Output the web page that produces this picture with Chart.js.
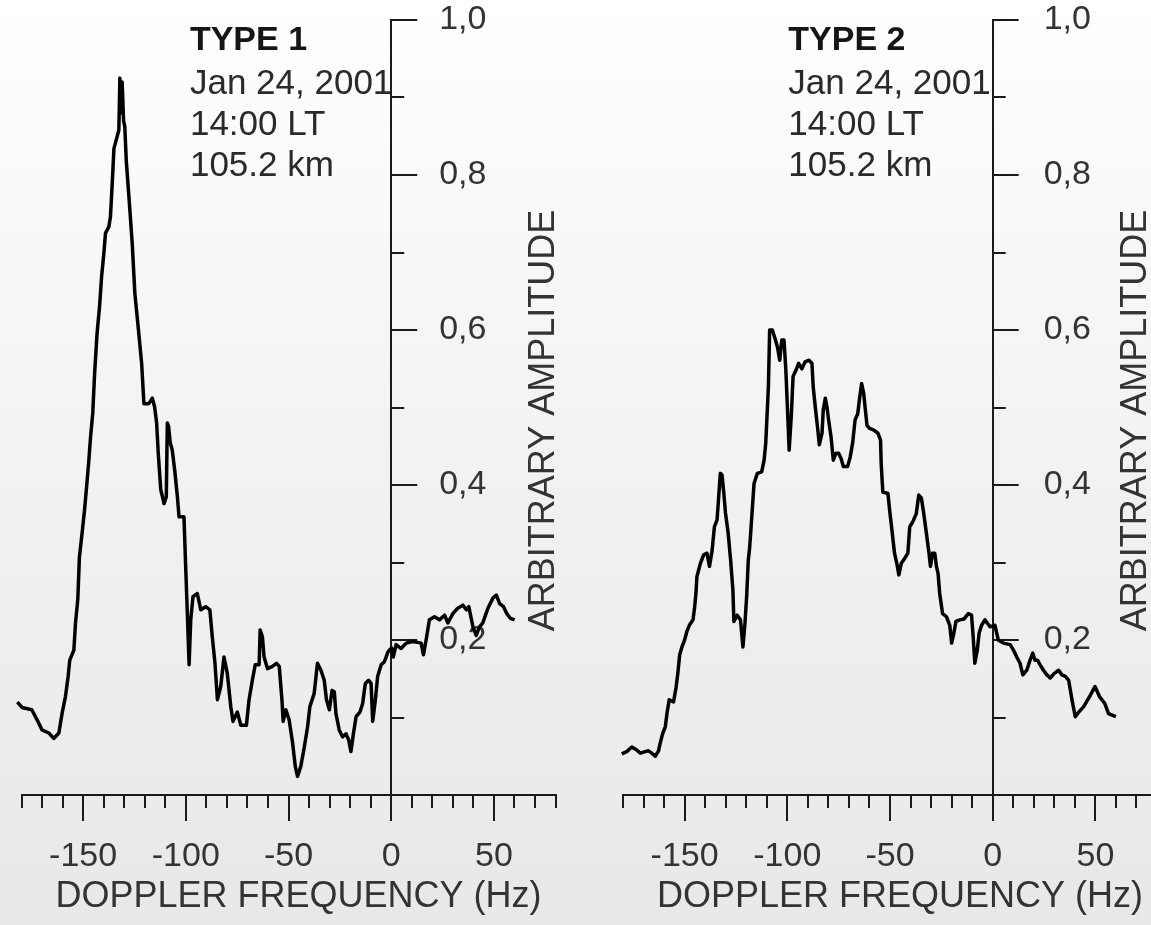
<!DOCTYPE html>
<html>
<head>
<meta charset="utf-8">
<title>Doppler spectra</title>
<script src="https://cdn.jsdelivr.net/npm/chart.js@4.4.1/dist/chart.umd.min.js"></script>
<style>
  html, body { margin: 0; padding: 0; }
  body {
    position: relative;
    width: 1151px;
    height: 925px;
    overflow: hidden;
    background: linear-gradient(to bottom, #ffffff 0%, #f3f3f3 45%, #e8e8e8 100%);
  }
  canvas { position: absolute; top: 0; }
  #type1Chart { left: 0; }
  #type2Chart { left: 600px; }
</style>
</head>
<body>
<canvas id="type1Chart" width="600" height="925"></canvas>
<canvas id="type2Chart" width="600" height="925"></canvas>
<script>
// ==========================================================
// Doppler spectra, two echo types (Jan 24, 2001, 105.2 km)
// ==========================================================

// --- TYPE 1 spectrum ---
const type1Freq = [
  -182, -179.8, -175, -172.4, -170, -166.7, -164.3, -161.8, -160.2, -158.6,
  -157.3, -156.5, -154.5, -153.7, -152.6, -151.8, -150.5, -149.3, -148.3, -147.2,
  -146.4, -145.3, -144.4, -143.2, -142, -141, -139.9, -139.1, -137.5, -136.7,
  -135.9, -135, -133.9, -132.6, -132.1, -131.5, -131, -130.3, -129.7, -129,
  -127.7, -126.1, -124.8, -123.2, -121.5, -120.4, -118, -116.3, -115.2, -114.2,
  -113.4, -112.2, -110.6, -109.5, -109, -108.4, -107.6, -106.6, -105.4, -104.1,
  -103.3, -100.9, -100, -99.2, -98.4, -97.6, -96.5, -94.4, -92.7, -90.3,
  -88.3, -87.1, -85.8, -84.6, -83, -81.4, -79.8, -78.1, -77, -74.9,
  -73.2, -70.5, -69.2, -67.6, -66.2, -64.3, -63.8, -62.7, -61.9, -60.2,
  -57.8, -55.9, -54.5, -53.2, -52.6, -51.3, -49.7, -48, -46.7, -45.6,
  -44, -42.3, -40.7, -39.6, -37.5, -35.9, -34.2, -32.6, -31.5, -30.1,
  -28.8, -27.7, -26.9, -25.3, -23.7, -22, -20.7, -19.6, -18.4, -17.1,
  -15.2, -13.9, -12.6, -11, -9.8, -9, -7.7, -6.6, -4.9, -3.3,
  -1.5, 0.2, 1, 2.4, 4.8, 7.3, 10.5, 14.6, 15.7, 17,
  18.6, 21.1, 23.5, 26, 27.6, 30, 32.4, 34.9, 36.6, 37.8,
  39.8, 41.4, 43, 44.6, 47.1, 49.5, 51.2, 52.8, 54.7, 56.3,
  58, 60.1,
];
const type1Amp = [
  0.120, 0.113, 0.110, 0.097, 0.084, 0.080, 0.073, 0.080, 0.106, 0.127,
  0.153, 0.174, 0.187, 0.222, 0.252, 0.307, 0.338, 0.368, 0.398, 0.432,
  0.461, 0.493, 0.544, 0.596, 0.630, 0.669, 0.699, 0.725, 0.733, 0.746,
  0.785, 0.834, 0.845, 0.858, 0.925, 0.880, 0.920, 0.870, 0.862, 0.819,
  0.772, 0.712, 0.647, 0.604, 0.557, 0.505, 0.505, 0.512, 0.501, 0.480,
  0.440, 0.394, 0.376, 0.385, 0.480, 0.476, 0.455, 0.445, 0.419, 0.385,
  0.359, 0.359, 0.290, 0.230, 0.168, 0.226, 0.256, 0.260, 0.239, 0.243,
  0.239, 0.204, 0.170, 0.123, 0.140, 0.178, 0.157, 0.114, 0.095, 0.107,
  0.090, 0.090, 0.123, 0.148, 0.168, 0.168, 0.213, 0.204, 0.178, 0.163,
  0.166, 0.170, 0.166, 0.123, 0.095, 0.110, 0.097, 0.067, 0.037, 0.024,
  0.037, 0.062, 0.088, 0.114, 0.131, 0.170, 0.161, 0.148, 0.123, 0.110,
  0.135, 0.133, 0.105, 0.084, 0.075, 0.079, 0.071, 0.056, 0.079, 0.101,
  0.107, 0.118, 0.144, 0.148, 0.144, 0.095, 0.123, 0.153, 0.168, 0.172,
  0.185, 0.190, 0.178, 0.194, 0.189, 0.196, 0.198, 0.196, 0.181, 0.200,
  0.226, 0.230, 0.226, 0.232, 0.222, 0.234, 0.241, 0.245, 0.239, 0.243,
  0.217, 0.206, 0.217, 0.222, 0.241, 0.254, 0.258, 0.247, 0.243, 0.234,
  0.228, 0.226,
];

// --- TYPE 2 spectrum ---
const type2Freq = [
  -182.5, -180.6, -178.2, -175.7, -173.3, -171.6, -169.2, -167.6, -166, -164.3,
  -162.7, -161.9, -160.6, -159.4, -158.6, -157.5, -155.4, -154.2, -153.3, -152.4,
  -151.3, -150, -148.9, -147.7, -145.9, -145.1, -144.5, -144, -142.3, -140.7,
  -139.1, -137.9, -136.6, -135.5, -134.2, -133.4, -132.6, -131.8, -130.9, -130.1,
  -128.8, -127.6, -126.5, -126, -124.4, -122.8, -121.6, -120.6, -119.8, -119,
  -118.3, -117.3, -116.2, -114.6, -112.5, -111.3, -110.5, -109.2, -108.6, -107.3,
  -106.2, -104.8, -103.7, -102.7, -101.6, -100.7, -99.9, -99.1, -98, -97.2,
  -95.8, -94.5, -92.9, -91.3, -89.5, -88, -87.4, -86.4, -85.3, -84.4,
  -83.1, -82.5, -81.5, -80.7, -79.9, -78.7, -77.6, -76.3, -75, -73.8,
  -72.7, -70.6, -69.4, -68.2, -67, -65.7, -64.9, -63.8, -62.8, -62,
  -61.2, -60, -58, -55.9, -54.6, -54.3, -53.5, -51, -50.2, -48.9,
  -47.8, -46.7, -45.7, -44.5, -42.9, -41.3, -40.4, -38.8, -37.2, -36,
  -34.7, -33.6, -32.3, -31, -30.3, -29.3, -28.2, -27.4, -26.6, -25.8,
  -24.4, -22.5, -20.9, -20, -18.9, -17.9, -16, -14, -11.9, -10.3,
  -9.5, -8.7, -7.5, -6.6, -5.4, -3.8, -1.3, 1.1, 2.7, 5.2,
  8.5, 10.1, 11.7, 13.3, 14.7, 16.6, 18.2, 19.5, 20.6, 21.8,
  23.1, 24.7, 26.4, 28, 30, 32.1, 33.7, 35.4, 37, 38.6,
  40.2, 41.9, 44.3, 46.3, 47.6, 49.8, 52, 54.6, 56.4, 60,
];
const type2Amp = [
  0.057, 0.053, 0.056, 0.062, 0.058, 0.054, 0.056, 0.057, 0.054, 0.050,
  0.057, 0.067, 0.080, 0.088, 0.105, 0.123, 0.120, 0.138, 0.157, 0.181,
  0.191, 0.200, 0.211, 0.219, 0.226, 0.243, 0.260, 0.282, 0.299, 0.310,
  0.312, 0.295, 0.316, 0.346, 0.355, 0.385, 0.415, 0.413, 0.389, 0.364,
  0.338, 0.303, 0.265, 0.224, 0.232, 0.226, 0.191, 0.222, 0.256, 0.303,
  0.320, 0.359, 0.402, 0.415, 0.417, 0.432, 0.454, 0.527, 0.600, 0.600,
  0.591, 0.578, 0.561, 0.587, 0.587, 0.548, 0.497, 0.445, 0.492, 0.540,
  0.548, 0.557, 0.550, 0.559, 0.561, 0.557, 0.527, 0.501, 0.475, 0.452,
  0.467, 0.497, 0.512, 0.501, 0.484, 0.462, 0.432, 0.441, 0.441, 0.434,
  0.424, 0.424, 0.436, 0.454, 0.484, 0.492, 0.510, 0.531, 0.518, 0.497,
  0.477, 0.473, 0.471, 0.467, 0.458, 0.428, 0.391, 0.389, 0.368, 0.338,
  0.312, 0.299, 0.284, 0.299, 0.305, 0.312, 0.346, 0.353, 0.363, 0.387,
  0.383, 0.364, 0.338, 0.312, 0.295, 0.312, 0.312, 0.295, 0.286, 0.260,
  0.234, 0.230, 0.219, 0.196, 0.209, 0.224, 0.226, 0.227, 0.234, 0.232,
  0.204, 0.170, 0.187, 0.209, 0.219, 0.226, 0.217, 0.219, 0.200, 0.196,
  0.194, 0.187, 0.178, 0.170, 0.155, 0.161, 0.174, 0.183, 0.174, 0.174,
  0.168, 0.161, 0.155, 0.151, 0.157, 0.161, 0.155, 0.153, 0.148, 0.123,
  0.101, 0.107, 0.114, 0.123, 0.129, 0.140, 0.127, 0.118, 0.105, 0.101,
];

// axis ranges and steps
const freqRange = [-180, 80];
const freqMajorStep = 50;
const freqMinorStep = 10;
const ampRange = [0, 1];
const ampMajorStep = 0.2;
const ampMinorStep = 0.1;

const infoLines = ["Jan 24, 2001", "14:00 LT", "105.2 km"];
const xTitle = "DOPPLER FREQUENCY (Hz)";
const yTitle = "ARBITRARY AMPLITUDE";

const FONT = '"Liberation Sans", Arial, sans-serif';
const INK = "#1a1a1a";
const TEXT = "#333";

Chart.defaults.font.family = FONT;
Chart.defaults.color = TEXT;

// Block of text (type, date, time, height) in the top of each panel
const infoPlugin = {
  id: "info",
  afterDraw(chart, args, opts) {
    const { ctx, chartArea } = chart;
    const x = chart.scales.x.getPixelForValue(opts.at);
    ctx.save();
    ctx.textAlign = "left";
    ctx.textBaseline = "middle";
    ctx.fillStyle = "#151515";
    ctx.font = `bold 34px ${FONT}`;
    ctx.fillText(opts.title, x, chartArea.top + 21);
    ctx.fillStyle = "#2a2a2a";
    ctx.font = `35px ${FONT}`;
    infoLines.forEach((line, i) => ctx.fillText(line, x, chartArea.top + 64 + i * 41));
    ctx.restore();
  },
};

// Vertical axes cross at 0 Hz instead of sitting at the left edge.
// Minor scales only carry the short ticks and the axis titles.
const crossAxesPlugin = {
  id: "crossAxes",
  afterLayout(chart) {
    const { x, xMinor, y, yMinor } = chart.scales;
    const x0 = x.getPixelForValue(0);
    y.left = y.right = x0;
    yMinor.left = yMinor.right = x0;
    yMinor.top += 13;
    yMinor.bottom += 13;
    xMinor.top = x.top;
    xMinor.bottom = x.bottom;
    xMinor.left = x.left + 10;
    xMinor.right = x.right + 10;
  },
};

function buildPanel(canvasId, freq, amp, panel) {
  const points = freq.map((f, i) => ({ x: f, y: amp[i] }));
  return new Chart(document.getElementById(canvasId), {
    type: "line",
    data: {
      datasets: [
        {
          data: points,
          borderColor: "#000",
          borderWidth: 3.5,
          borderJoinStyle: "round",
          pointRadius: 0,
          tension: 0,
          clip: false,
        },
      ],
    },
    options: {
      responsive: false,
      animation: false,
      events: [],
      devicePixelRatio: 1,
      layout: {
        autoPadding: false,
        padding: { left: panel.padLeft, right: panel.padRight, top: 20, bottom: 0 },
      },
      plugins: {
        legend: { display: false },
        tooltip: { enabled: false },
        info: { title: panel.title, at: panel.infoAt },
      },
      scales: {
        x: {
          type: "linear",
          position: "bottom",
          min: freqRange[0],
          max: freqRange[1],
          border: { color: INK, width: 2 },
          grid: { drawOnChartArea: false, color: INK, lineWidth: 2, tickLength: 26 },
          ticks: {
            stepSize: freqMajorStep,
            includeBounds: false,
            autoSkip: false,
            maxRotation: 0,
            padding: 15,
            color: TEXT,
            font: { size: 34 },
            callback: (v) => String(v),
          },
          afterFit: (s) => { s.height = 130; s.paddingLeft = s.paddingRight = 0; },
        },
        xMinor: {
          type: "linear",
          position: "bottom",
          min: freqRange[0],
          max: freqRange[1],
          border: { display: false },
          grid: { drawOnChartArea: false, color: INK, lineWidth: 2, tickLength: 13 },
          ticks: { stepSize: freqMinorStep, display: false, autoSkip: false },
          title: {
            display: true,
            text: xTitle,
            color: TEXT,
            font: { size: 36 },
            padding: { top: 0, bottom: 6 },
          },
          afterFit: (s) => { s.height = 0; s.paddingLeft = s.paddingRight = 0; },
        },
        y: {
          type: "linear",
          position: "left",
          min: ampRange[0],
          max: ampRange[1],
          border: { color: INK, width: 2 },
          grid: { drawOnChartArea: false, color: INK, lineWidth: 2, tickLength: -26 },
          ticks: {
            stepSize: ampMajorStep,
            mirror: true,
            padding: panel.labelGap,
            color: TEXT,
            font: { size: 34 },
            callback: (v) => (v === 0 ? "" : v.toFixed(1).replace(".", ",")),
          },
          afterFit: (s) => { s.width = 0; s.paddingTop = s.paddingBottom = 0; },
        },
        yMinor: {
          type: "linear",
          position: "left",
          min: ampRange[0],
          max: ampRange[1],
          border: { display: false },
          grid: { drawOnChartArea: false, color: INK, lineWidth: 2, tickLength: -13 },
          ticks: { stepSize: ampMinorStep, display: false },
          title: {
            display: true,
            text: yTitle,
            color: TEXT,
            font: { size: 36 },
            padding: { top: panel.yTitleGap, bottom: 0 },
          },
          afterFit: (s) => { s.width = 0; s.paddingTop = s.paddingBottom = 0; },
        },
      },
    },
    plugins: [infoPlugin, crossAxesPlugin],
  });
}

buildPanel("type1Chart", type1Freq, type1Amp, {
  title: "TYPE 1", infoAt: -98, padLeft: 21.5, padRight: 44.5, labelGap: 48, yTitleGap: 131,
});
buildPanel("type2Chart", type2Freq, type2Amp, {
  title: "TYPE 2", infoAt: -99.5, padLeft: 23, padRight: 43, labelGap: 51, yTitleGap: 122,
});
</script>
</body>
</html>
